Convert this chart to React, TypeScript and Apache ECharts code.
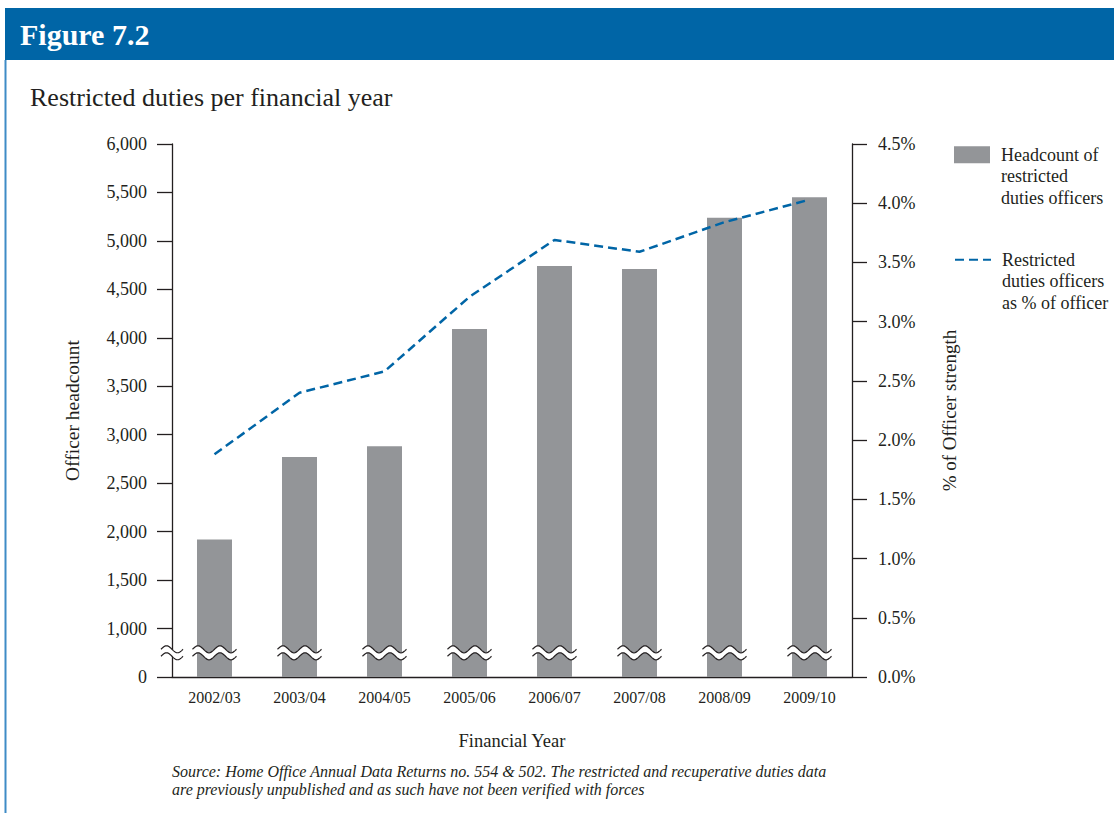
import React, { useEffect, useRef } from 'react';
import * as echarts from 'echarts';

const categories = ['2002/03', '2003/04', '2004/05', '2005/06', '2006/07', '2007/08', '2008/09', '2009/10'];
const headcount = [1920, 2770, 2880, 4090, 4740, 4710, 5240, 5450];
const percentStrength = [1.88, 2.4, 2.58, 3.21, 3.69, 3.59, 3.84, 4.03];
const barName = 'Headcount of\nrestricted\nduties officers';
const lineName = 'Restricted\nduties officers\nas % of officer';
const figureLabel = 'Figure 7.2';
const chartTitle = 'Restricted duties per financial year';
const xAxisTitle = 'Financial Year';
const leftAxisTitle = 'Officer headcount';
const rightAxisTitle = '% of Officer strength';
const sourceNote =
  'Source: Home Office Annual Data Returns no. 554 & 502. The restricted and recuperative duties data\nare previously unpublished and as such have not been verified with forces';

// Broken axis: 0..1000 is compressed to half scale
const BREAK = 1000;
const toAxis = (v: number) => (v <= BREAK ? v / 2 : v - BREAK / 2);
const fromAxis = (t: number) => (t <= BREAK / 2 ? t * 2 : t + BREAK / 2);
const BREAK_MID = BREAK / 4; // axis units in middle of compressed segment

const FONT = "'Liberation Serif', 'Times New Roman', serif";
const TEXT = '#231f20';
const BLUE = '#0065a6';

function wave(cx: number, cy: number, w: number, amp: number, periods: number, offset: number) {
  const pts: number[][] = [];
  const n = 40;
  for (let i = 0; i <= n; i++) {
    const f = i / n;
    pts.push([cx - w / 2 + f * w, cy + offset - amp * Math.sin(f * periods * 2 * Math.PI)]);
  }
  return pts;
}

function breakShape(cx: number, cy: number, w: number, amp: number, periods: number, gap: number) {
  const up = wave(cx, cy, w, amp, periods, -gap / 2);
  const lo = wave(cx, cy, w, amp, periods, gap / 2);
  return {
    type: 'group',
    children: [
      { type: 'polygon', shape: { points: up.concat(lo.slice().reverse()) }, style: { fill: '#fff' } },
      { type: 'polyline', shape: { points: up }, style: { stroke: TEXT, lineWidth: 1.2, fill: null } },
      { type: 'polyline', shape: { points: lo }, style: { stroke: TEXT, lineWidth: 1.2, fill: null } },
    ],
  };
}

const legendCommon = {
  left: 954,
  orient: 'vertical',
  itemWidth: 36,
  itemHeight: 17,
  itemGap: 0,
  padding: 0,
  selectedMode: false,
  formatter: (name: string) => '\n\n' + name,
  textStyle: { fontSize: 18, lineHeight: 21.5, color: TEXT, fontFamily: FONT, padding: [0, 0, 0, 6] },
};

export default function App() {
  const ref = useRef<HTMLDivElement>(null);
  useEffect(() => {
    document.body.style.margin = '0';
    const chart = echarts.init(ref.current!, undefined, { renderer: 'svg' });
    const option: any = {
      animation: false,
      backgroundColor: '#fff',
      textStyle: { fontFamily: FONT, color: TEXT },
      title: [
        {
          text: figureLabel,
          left: 20,
          top: 19,
          padding: 0,
          textStyle: { color: '#fff', fontSize: 30, fontWeight: 'bold', fontFamily: FONT },
        },
        {
          text: chartTitle,
          left: 30,
          top: 84,
          padding: 0,
          textStyle: { color: TEXT, fontSize: 26, fontWeight: 'normal', fontFamily: FONT },
        },
      ],
      graphic: [
        { type: 'rect', z: -1, shape: { x: 5, y: 8, width: 1109, height: 52 }, style: { fill: BLUE } },
        { type: 'line', shape: { x1: 5.5, y1: 60, x2: 5.5, y2: 813 }, style: { stroke: '#3f8bc6', lineWidth: 2 } },
        {
          type: 'text',
          left: 172,
          top: 762,
          style: { text: sourceNote, font: `italic 16px ${FONT}`, fill: TEXT, lineHeight: 18 },
        },
      ],
      legend: [
        { ...legendCommon, data: [{ name: barName, icon: 'rect' }], top: 101 },
        { ...legendCommon, data: [{ name: lineName }], top: 206, itemStyle: { opacity: 0 } },
      ],
      grid: { left: 172, right: 262, top: 144, bottom: 136 },
      xAxis: {
        type: 'category',
        data: categories,
        name: xAxisTitle,
        nameLocation: 'middle',
        nameGap: 54,
        nameTextStyle: { fontSize: 18.5, color: TEXT, fontFamily: FONT },
        axisLine: { lineStyle: { color: TEXT, width: 1.3 } },
        axisTick: { show: false },
        axisLabel: { fontSize: 16, color: TEXT, margin: 12, fontFamily: FONT },
      },
      yAxis: [
        {
          type: 'value',
          min: 0,
          max: toAxis(6000),
          interval: 500,
          name: leftAxisTitle,
          nameLocation: 'middle',
          nameRotate: 90,
          nameGap: 90,
          nameTextStyle: { fontSize: 19.5, color: TEXT, fontFamily: FONT },
          axisLine: { show: true, lineStyle: { color: TEXT, width: 1.3 } },
          axisTick: { show: true, length: 15, lineStyle: { color: TEXT, width: 1.3 } },
          splitLine: { show: false },
          axisLabel: {
            fontSize: 18,
            color: TEXT,
            margin: 25,
            fontFamily: FONT,
            formatter: (t: number) => fromAxis(t).toLocaleString('en-US'),
          },
        },
        {
          type: 'value',
          min: 0,
          max: 4.5,
          interval: 0.5,
          position: 'right',
          name: rightAxisTitle,
          nameLocation: 'middle',
          nameRotate: 90,
          nameGap: 88,
          nameTextStyle: { fontSize: 19, color: TEXT, fontFamily: FONT },
          axisLine: { show: true, lineStyle: { color: TEXT, width: 1.3 } },
          axisTick: { show: true, length: 15, lineStyle: { color: TEXT, width: 1.3 } },
          splitLine: { show: false },
          axisLabel: {
            fontSize: 18,
            color: TEXT,
            margin: 26,
            fontFamily: FONT,
            formatter: (v: number) => v.toFixed(1) + '%',
          },
        },
      ],
      series: [
        {
          name: barName,
          type: 'bar',
          yAxisIndex: 0,
          barWidth: 35,
          itemStyle: { color: '#939598' },
          data: headcount.map(toAxis),
        },
        {
          name: lineName,
          type: 'line',
          yAxisIndex: 1,
          symbol: 'none',
          lineStyle: { color: BLUE, width: 2.5, type: [9, 5] },
          itemStyle: { color: BLUE },
          data: percentStrength,
        },
        {
          name: 'barBreaks',
          type: 'custom',
          yAxisIndex: 0,
          z: 10,
          silent: true,
          data: categories.map((_, i) => [i, BREAK_MID]),
          renderItem: (params: any, api: any) => {
            const c = api.coord([api.value(0), api.value(1)]);
            return breakShape(c[0], c[1], 44, 3.5, 2, 7);
          },
        },
        {
          name: 'axisBreak',
          type: 'custom',
          yAxisIndex: 0,
          z: 10,
          silent: true,
          data: [[0, BREAK_MID]],
          renderItem: (params: any, api: any) => {
            const c = api.coord([api.value(0), api.value(1)]);
            const band = api.size([1, 0])[0];
            return breakShape(c[0] - band / 2, c[1], 22, 3.5, 1, 7);
          },
        },
      ],
    };
    chart.setOption(option);
    return () => chart.dispose();
  }, []);
  return <div ref={ref} style={{ position: 'absolute', left: 0, top: 0, width: 1114, height: 813 }} />;
}
